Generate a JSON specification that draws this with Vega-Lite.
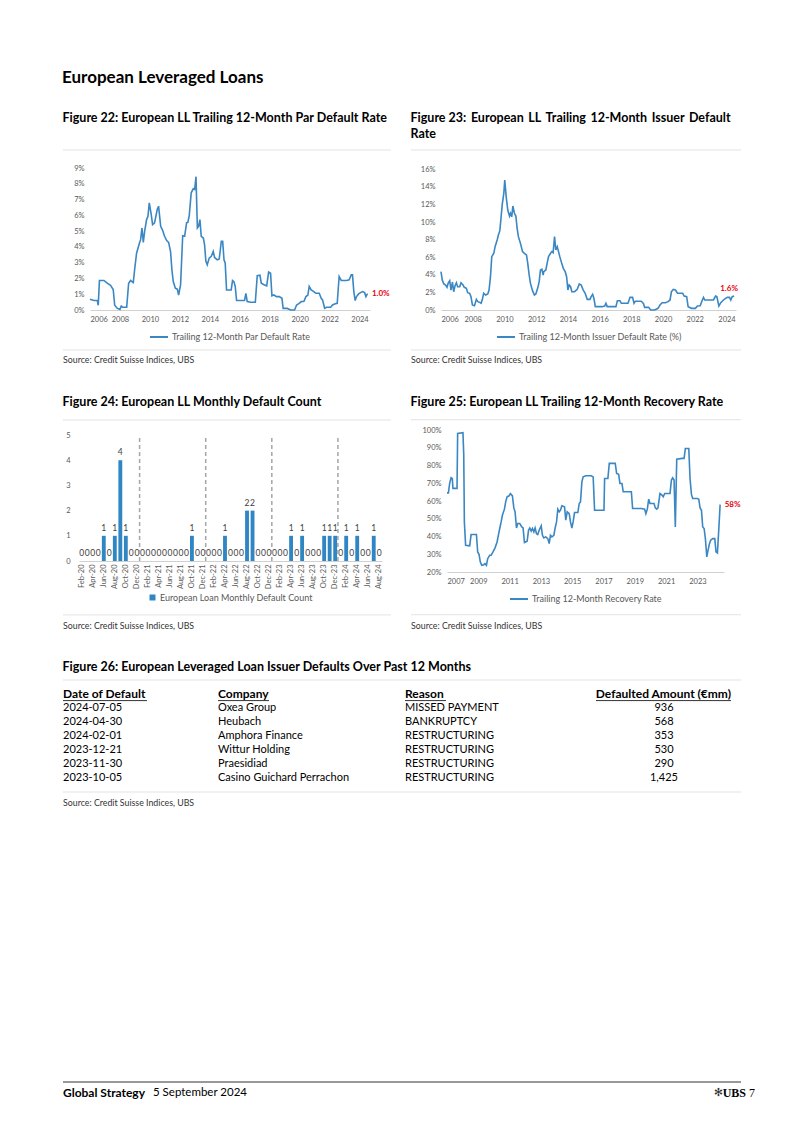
{
  "$schema": "https://vega.github.io/schema/vega-lite/v6.json",
  "background": "white",
  "padding": {"left": 43, "top": 68, "right": 0, "bottom": 0},
  "title": {"text": "European Leveraged Loans", "fontSize": 17, "fontWeight": "bold", "dx": 19, "offset": 25, "anchor": "start", "font": "Lato", "color": "#000000"},
  "spacing": 30,
  "resolve": {"scale": {"color": "independent"}, "legend": {"color": "independent"}},
  "vconcat": [
    {
      "spacing": 18,
      "resolve": {"scale": {"color": "independent"}, "legend": {"color": "independent"}},
      "hconcat": [
        {"width": 1, "height": 1, "data": {"values": []}, "mark": "rule", "encoding": {}},
        {
          "width": 280, "height": 142,
          "title": {"text": "Figure 22: European LL Trailing 12-Month Par Default Rate", "offset": 25},
          "layer": [
            {
              "data": {"values": [
                {"d":2006.0,"v":0.68},{"d":2006.27,"v":0.6},{"d":2006.49,"v":0.6},{"d":2006.55,"v":0.3},{"d":2006.63,"v":1.87},{"d":2006.93,"v":1.87},{"d":2007.15,"v":1.7},{"d":2007.37,"v":1.57},{"d":2007.55,"v":1.3},{"d":2007.65,"v":0.3},{"d":2007.83,"v":0.1},{"d":2008.0,"v":0.04},{"d":2008.09,"v":0.25},{"d":2008.2,"v":0.17},{"d":2008.45,"v":0.17},{"d":2008.58,"v":1.7},{"d":2008.71,"v":1.87},{"d":2008.89,"v":1.74},{"d":2008.98,"v":2.55},{"d":2009.11,"v":3.6},{"d":2009.29,"v":4.2},{"d":2009.38,"v":4.46},{"d":2009.47,"v":5.2},{"d":2009.56,"v":4.29},{"d":2009.65,"v":5.0},{"d":2009.78,"v":5.73},{"d":2009.87,"v":5.94},{"d":2009.96,"v":6.79},{"d":2010.09,"v":6.05},{"d":2010.18,"v":5.41},{"d":2010.31,"v":5.52},{"d":2010.49,"v":6.37},{"d":2010.58,"v":6.58},{"d":2010.72,"v":5.3},{"d":2010.85,"v":5.05},{"d":2010.98,"v":4.67},{"d":2011.12,"v":4.4},{"d":2011.25,"v":4.29},{"d":2011.38,"v":3.7},{"d":2011.47,"v":2.55},{"d":2011.56,"v":1.8},{"d":2011.7,"v":1.38},{"d":2011.83,"v":1.32},{"d":2011.92,"v":0.95},{"d":2012.05,"v":1.6},{"d":2012.19,"v":4.7},{"d":2012.32,"v":4.67},{"d":2012.45,"v":5.52},{"d":2012.54,"v":5.56},{"d":2012.63,"v":6.0},{"d":2012.76,"v":7.43},{"d":2012.9,"v":7.69},{"d":2012.99,"v":7.64},{"d":2013.08,"v":8.45},{"d":2013.17,"v":5.2},{"d":2013.25,"v":5.3},{"d":2013.34,"v":5.73},{"d":2013.43,"v":4.67},{"d":2013.57,"v":4.56},{"d":2013.65,"v":4.14},{"d":2013.74,"v":3.08},{"d":2013.83,"v":2.87},{"d":2013.96,"v":3.29},{"d":2014.1,"v":3.4},{"d":2014.23,"v":3.71},{"d":2014.32,"v":3.33},{"d":2014.5,"v":3.18},{"d":2014.63,"v":3.23},{"d":2014.77,"v":4.35},{"d":2014.86,"v":4.35},{"d":2014.95,"v":3.18},{"d":2015.03,"v":2.97},{"d":2015.12,"v":1.27},{"d":2015.3,"v":1.27},{"d":2015.43,"v":1.27},{"d":2015.52,"v":1.87},{"d":2015.61,"v":1.8},{"d":2015.7,"v":1.49},{"d":2015.79,"v":0.6},{"d":2016.06,"v":0.6},{"d":2016.32,"v":0.6},{"d":2016.41,"v":1.06},{"d":2016.5,"v":0.53},{"d":2016.73,"v":0.49},{"d":2017.04,"v":0.49},{"d":2017.17,"v":2.17},{"d":2017.35,"v":2.2},{"d":2017.44,"v":1.7},{"d":2017.62,"v":1.6},{"d":2017.8,"v":1.53},{"d":2017.93,"v":2.4},{"d":2018.06,"v":2.33},{"d":2018.15,"v":0.9},{"d":2018.28,"v":0.95},{"d":2018.46,"v":0.85},{"d":2018.64,"v":0.85},{"d":2018.82,"v":0.74},{"d":2018.9,"v":0.1},{"d":2019.17,"v":0.1},{"d":2019.4,"v":0.0},{"d":2019.66,"v":0.0},{"d":2019.8,"v":0.32},{"d":2019.97,"v":0.42},{"d":2020.11,"v":0.53},{"d":2020.29,"v":0.55},{"d":2020.42,"v":0.85},{"d":2020.55,"v":0.95},{"d":2020.64,"v":1.49},{"d":2020.77,"v":1.27},{"d":2020.95,"v":1.17},{"d":2021.08,"v":1.06},{"d":2021.31,"v":1.06},{"d":2021.44,"v":0.74},{"d":2021.53,"v":0.64},{"d":2021.67,"v":0.11},{"d":2021.8,"v":0.17},{"d":2022.07,"v":0.17},{"d":2022.2,"v":0.32},{"d":2022.33,"v":0.38},{"d":2022.51,"v":0.42},{"d":2022.64,"v":2.12},{"d":2022.78,"v":1.87},{"d":2022.96,"v":1.87},{"d":2023.13,"v":1.87},{"d":2023.31,"v":1.91},{"d":2023.45,"v":2.23},{"d":2023.53,"v":2.23},{"d":2023.62,"v":1.17},{"d":2023.71,"v":0.6},{"d":2023.8,"v":0.85},{"d":2023.94,"v":1.02},{"d":2024.07,"v":1.1},{"d":2024.2,"v":1.17},{"d":2024.34,"v":1.1},{"d":2024.43,"v":0.85},{"d":2024.51,"v":1.0},{"d":2024.56,"v":1.0}
              ]},
              "mark": {"type": "line", "strokeWidth": 1.6},
              "encoding": {
                "x": {"field": "d", "type": "quantitative", "scale": {"domain": [2006, 2024.7], "nice": false, "zero": false}, "axis": {"values": [2006,2008,2010,2012,2014,2016,2018,2020,2022,2024], "tickCount": 30, "format": "d", "labelPadding": 5, "labelOverlap": false, "title": null}},
                "y": {"field": "v", "type": "quantitative", "scale": {"domain": [0, 9], "nice": false}, "axis": {"values": [0,1,2,3,4,5,6,7,8,9], "tickCount": 30, "labelExpr": "datum.value + '%'", "minExtent": 27, "labelPadding": 6, "labelOverlap": false, "title": null}},
                "color": {"datum": "Trailing 12-Month Par Default Rate", "scale": {"range": ["#3a87c3"]}, "legend": {"symbolType": "stroke", "symbolSize": 324, "symbolStrokeWidth": 2, "offset": 4}}
              }
            },
            {
              "data": {"values": [{"d": 2024.56, "v": 1.0, "t": "1.0%"}]},
              "mark": {"type": "text", "align": "left", "baseline": "middle", "dx": 4, "color": "#e8000d", "fontWeight": "bold", "fontSize": 8},
              "encoding": {"x": {"field": "d", "type": "quantitative"}, "y": {"field": "v", "type": "quantitative"}, "text": {"field": "t"}}
            },
            {
              "data": {"values": [{}]},
              "mark": {"type": "rule", "color": "#e3e3e3", "strokeWidth": 1},
              "encoding": {"x": {"datum": 2004.197}, "x2": {"datum": 2026.103}, "y": {"datum": 10.14}}
            },
            {
              "data": {"values": [{}]},
              "mark": {"type": "rule", "color": "#e3e3e3", "strokeWidth": 1},
              "encoding": {"x": {"datum": 2004.197}, "x2": {"datum": 2026.103}, "y": {"datum": -2.535}}
            },
            {
              "data": {"values": [{"t": "Source: Credit Suisse Indices, UBS"}]},
              "mark": {"type": "text", "align": "left", "baseline": "middle", "fontSize": 8.8, "color": "#333333"},
              "encoding": {"x": {"datum": 2004.197}, "y": {"datum": -3.169}, "text": {"field": "t"}}
            }
          ]
        },
        {
          "width": 295, "height": 142,
          "title": {"text": ["Figure 23: \u2009European \u2009LL \u2009Trailing \u200912-Month \u2009Issuer \u2009Default", "Rate"], "offset": 9, "lineHeight": 16},
          "layer": [
            {
              "data": {"values": [
                {"d":2006.0,"v":4.36},{"d":2006.08,"v":3.4},{"d":2006.17,"v":3.0},{"d":2006.29,"v":2.84},{"d":2006.38,"v":2.58},{"d":2006.46,"v":3.1},{"d":2006.55,"v":3.34},{"d":2006.63,"v":2.27},{"d":2006.72,"v":3.18},{"d":2006.8,"v":2.08},{"d":2006.88,"v":2.73},{"d":2006.97,"v":3.1},{"d":2007.05,"v":2.65},{"d":2007.18,"v":2.65},{"d":2007.26,"v":3.1},{"d":2007.39,"v":2.84},{"d":2007.47,"v":2.58},{"d":2007.6,"v":2.46},{"d":2007.68,"v":1.97},{"d":2007.81,"v":1.9},{"d":2007.89,"v":1.52},{"d":2007.98,"v":0.57},{"d":2008.11,"v":0.49},{"d":2008.23,"v":1.21},{"d":2008.32,"v":0.95},{"d":2008.44,"v":0.87},{"d":2008.53,"v":0.76},{"d":2008.61,"v":1.21},{"d":2008.69,"v":1.9},{"d":2008.82,"v":1.7},{"d":2008.95,"v":1.82},{"d":2009.03,"v":2.27},{"d":2009.12,"v":3.79},{"d":2009.2,"v":6.07},{"d":2009.33,"v":6.45},{"d":2009.41,"v":7.2},{"d":2009.54,"v":7.96},{"d":2009.62,"v":8.53},{"d":2009.71,"v":9.02},{"d":2009.79,"v":10.6},{"d":2009.87,"v":12.13},{"d":2009.96,"v":13.27},{"d":2010.02,"v":14.79},{"d":2010.11,"v":12.9},{"d":2010.21,"v":11.37},{"d":2010.32,"v":10.69},{"d":2010.38,"v":11.0},{"d":2010.46,"v":10.6},{"d":2010.53,"v":11.83},{"d":2010.63,"v":11.0},{"d":2010.72,"v":10.69},{"d":2010.8,"v":9.29},{"d":2010.88,"v":8.34},{"d":2011.01,"v":7.58},{"d":2011.14,"v":6.64},{"d":2011.26,"v":6.45},{"d":2011.39,"v":6.26},{"d":2011.47,"v":5.31},{"d":2011.56,"v":3.98},{"d":2011.64,"v":3.03},{"d":2011.77,"v":2.2},{"d":2011.89,"v":1.71},{"d":2011.98,"v":1.82},{"d":2012.11,"v":2.58},{"d":2012.19,"v":3.22},{"d":2012.27,"v":4.55},{"d":2012.36,"v":4.63},{"d":2012.44,"v":3.98},{"d":2012.48,"v":4.36},{"d":2012.61,"v":4.55},{"d":2012.69,"v":5.31},{"d":2012.78,"v":6.07},{"d":2012.91,"v":6.45},{"d":2012.99,"v":6.64},{"d":2013.07,"v":6.52},{"d":2013.16,"v":8.34},{"d":2013.24,"v":6.82},{"d":2013.33,"v":7.2},{"d":2013.41,"v":6.64},{"d":2013.49,"v":6.07},{"d":2013.58,"v":5.5},{"d":2013.71,"v":4.74},{"d":2013.83,"v":4.36},{"d":2013.92,"v":3.79},{"d":2014.0,"v":2.27},{"d":2014.08,"v":2.84},{"d":2014.17,"v":2.65},{"d":2014.25,"v":2.08},{"d":2014.42,"v":2.08},{"d":2014.59,"v":2.35},{"d":2014.72,"v":2.96},{"d":2014.84,"v":2.84},{"d":2014.97,"v":2.27},{"d":2015.09,"v":1.9},{"d":2015.22,"v":1.21},{"d":2015.39,"v":1.21},{"d":2015.47,"v":1.52},{"d":2015.56,"v":1.78},{"d":2015.64,"v":1.33},{"d":2015.73,"v":0.38},{"d":2016.15,"v":0.38},{"d":2016.32,"v":0.45},{"d":2016.4,"v":0.76},{"d":2016.48,"v":0.38},{"d":2017.03,"v":0.38},{"d":2017.12,"v":1.06},{"d":2017.28,"v":1.06},{"d":2017.37,"v":0.76},{"d":2017.79,"v":0.76},{"d":2017.92,"v":1.44},{"d":2018.08,"v":1.44},{"d":2018.17,"v":0.76},{"d":2018.25,"v":0.99},{"d":2018.63,"v":0.99},{"d":2018.76,"v":0.76},{"d":2018.84,"v":0.3},{"d":2019.09,"v":0.3},{"d":2019.22,"v":0.0},{"d":2019.47,"v":0.0},{"d":2019.68,"v":0.19},{"d":2019.81,"v":0.57},{"d":2019.94,"v":0.83},{"d":2020.15,"v":0.83},{"d":2020.32,"v":0.95},{"d":2020.44,"v":1.14},{"d":2020.53,"v":2.08},{"d":2020.65,"v":2.35},{"d":2020.78,"v":2.27},{"d":2020.91,"v":1.9},{"d":2021.24,"v":1.9},{"d":2021.33,"v":1.59},{"d":2021.49,"v":1.52},{"d":2021.58,"v":0.38},{"d":2021.79,"v":0.19},{"d":2022.04,"v":0.19},{"d":2022.17,"v":0.45},{"d":2022.34,"v":0.49},{"d":2022.46,"v":1.06},{"d":2022.55,"v":1.44},{"d":2022.63,"v":1.14},{"d":2023.18,"v":1.14},{"d":2023.31,"v":1.59},{"d":2023.39,"v":1.52},{"d":2023.52,"v":0.45},{"d":2023.64,"v":0.83},{"d":2023.81,"v":1.14},{"d":2023.94,"v":1.33},{"d":2024.06,"v":1.44},{"d":2024.19,"v":1.44},{"d":2024.27,"v":1.14},{"d":2024.36,"v":1.52},{"d":2024.48,"v":1.6}
              ]},
              "mark": {"type": "line", "strokeWidth": 1.6},
              "encoding": {
                "x": {"field": "d", "type": "quantitative", "scale": {"domain": [2006, 2024.6], "nice": false, "zero": false}, "axis": {"values": [2006,2008,2010,2012,2014,2016,2018,2020,2022,2024], "tickCount": 30, "format": "d", "labelPadding": 5, "labelOverlap": false, "title": null}},
                "y": {"field": "v", "type": "quantitative", "scale": {"domain": [0, 16.15], "nice": false}, "axis": {"values": [0,2,4,6,8,10,12,14,16], "tickCount": 30, "labelExpr": "datum.value + '%'", "minExtent": 30, "labelPadding": 6, "labelOverlap": false, "title": null}},
                "color": {"datum": "Trailing 12-Month Issuer Default Rate (%)", "scale": {"range": ["#3a87c3"]}, "legend": {"symbolType": "stroke", "symbolSize": 324, "symbolStrokeWidth": 2, "offset": 4}}
              }
            },
            {
              "data": {"values": [{"d": 2024.48, "v": 1.6, "t": "1.6%"}]},
              "mark": {"type": "text", "align": "center", "baseline": "middle", "dx": -5, "dy": -7, "color": "#e8000d", "fontWeight": "bold", "fontSize": 8},
              "encoding": {"x": {"field": "d", "type": "quantitative"}, "y": {"field": "v", "type": "quantitative"}, "text": {"field": "t"}}
            },
            {
              "data": {"values": [{}]},
              "mark": {"type": "rule", "color": "#e3e3e3", "strokeWidth": 1},
              "encoding": {"x": {"datum": 2004.108}, "x2": {"datum": 2024.916}, "y": {"datum": 18.2}}
            },
            {
              "data": {"values": [{}]},
              "mark": {"type": "rule", "color": "#e3e3e3", "strokeWidth": 1},
              "encoding": {"x": {"datum": 2004.108}, "x2": {"datum": 2024.916}, "y": {"datum": -4.549}}
            },
            {
              "data": {"values": [{"t": "Source: Credit Suisse Indices, UBS"}]},
              "mark": {"type": "text", "align": "left", "baseline": "middle", "fontSize": 8.8, "color": "#333333"},
              "encoding": {"x": {"datum": 2004.108}, "y": {"datum": -5.686}, "text": {"field": "t"}}
            }
          ]
        }
      ]
    },
    {
      "spacing": 18,
      "resolve": {"scale": {"color": "independent"}, "legend": {"color": "independent"}},
      "hconcat": [
        {"width": 1, "height": 1, "data": {"values": []}, "mark": "rule", "encoding": {}},
        {
          "width": 303, "height": 131,
          "title": {"text": "Figure 24: European LL Monthly Default Count", "offset": 11},
          "layer": [
            {
              "data": {"values": [
                {"m":"Feb-20","n":0},{"m":"Mar-20","n":0},{"m":"Apr-20","n":0},{"m":"May-20","n":0},{"m":"Jun-20","n":1},{"m":"Jul-20","n":0},{"m":"Aug-20","n":1},{"m":"Sep-20","n":4},{"m":"Oct-20","n":1},{"m":"Nov-20","n":0},{"m":"Dec-20","n":0},
                {"m":"Jan-21","n":0},{"m":"Feb-21","n":0},{"m":"Mar-21","n":0},{"m":"Apr-21","n":0},{"m":"May-21","n":0},{"m":"Jun-21","n":0},{"m":"Jul-21","n":0},{"m":"Aug-21","n":0},{"m":"Sep-21","n":0},{"m":"Oct-21","n":1},{"m":"Nov-21","n":0},{"m":"Dec-21","n":0},
                {"m":"Jan-22","n":0},{"m":"Feb-22","n":0},{"m":"Mar-22","n":0},{"m":"Apr-22","n":1},{"m":"May-22","n":0},{"m":"Jun-22","n":0},{"m":"Jul-22","n":0},{"m":"Aug-22","n":2},{"m":"Sep-22","n":2},{"m":"Oct-22","n":0},{"m":"Nov-22","n":0},{"m":"Dec-22","n":0},
                {"m":"Jan-23","n":0},{"m":"Feb-23","n":0},{"m":"Mar-23","n":0},{"m":"Apr-23","n":1},{"m":"May-23","n":0},{"m":"Jun-23","n":1},{"m":"Jul-23","n":0},{"m":"Aug-23","n":0},{"m":"Sep-23","n":0},{"m":"Oct-23","n":1},{"m":"Nov-23","n":1},{"m":"Dec-23","n":1},
                {"m":"Jan-24","n":0},{"m":"Feb-24","n":1},{"m":"Mar-24","n":0},{"m":"Apr-24","n":1},{"m":"May-24","n":0},{"m":"Jun-24","n":0},{"m":"Jul-24","n":1},{"m":"Aug-24","n":0}
              ]},
              "encoding": {
                "x": {"field": "m", "type": "ordinal", "sort": null,
                  "scale": {"domain": ["Feb-20","Mar-20","Apr-20","May-20","Jun-20","Jul-20","Aug-20","Sep-20","Oct-20","Nov-20","Dec-20","Jan-21","Feb-21","Mar-21","Apr-21","May-21","Jun-21","Jul-21","Aug-21","Sep-21","Oct-21","Nov-21","Dec-21","Jan-22","Feb-22","Mar-22","Apr-22","May-22","Jun-22","Jul-22","Aug-22","Sep-22","Oct-22","Nov-22","Dec-22","Jan-23","Feb-23","Mar-23","Apr-23","May-23","Jun-23","Jul-23","Aug-23","Sep-23","Oct-23","Nov-23","Dec-23","Jan-24","Feb-24","Mar-24","Apr-24","May-24","Jun-24","Jul-24","Aug-24"], "paddingInner": 0.3, "paddingOuter": 0.15},
                  "axis": {"values": ["Feb-20","Apr-20","Jun-20","Aug-20","Oct-20","Dec-20","Feb-21","Apr-21","Jun-21","Aug-21","Oct-21","Dec-21","Feb-22","Apr-22","Jun-22","Aug-22","Oct-22","Dec-22","Feb-23","Apr-23","Jun-23","Aug-23","Oct-23","Dec-23","Feb-24","Apr-24","Jun-24","Aug-24"], "labelAngle": 270, "labelFontSize": 7.5, "labelPadding": 3, "labelOverlap": false, "title": null}}
              },
              "layer": [
                {
                  "mark": {"type": "bar", "color": "#2f86c3"},
                  "encoding": {
                    "y": {"field": "n", "type": "quantitative", "scale": {"domain": [0, 5.2], "nice": false}, "axis": {"values": [0,1,2,3,4,5], "tickCount": 30, "format": "d", "minExtent": 16, "labelPadding": 9, "labelOverlap": false, "title": null}},
                    "color": {"datum": "European Loan Monthly Default Count", "scale": {"range": ["#2f86c3"]}, "legend": {"symbolType": "square", "symbolSize": 36, "symbolStrokeWidth": 0, "offset": 4}}
                  }
                },
                {
                  "mark": {"type": "text", "baseline": "middle", "dy": -8, "fontSize": 8.5, "color": "#404040"},
                  "encoding": {"y": {"field": "n", "type": "quantitative"}, "text": {"field": "n", "type": "quantitative"}}
                },
                {
                  "data": {"values": [{"m": "Dec-20"}, {"m": "Dec-21"}, {"m": "Dec-22"}, {"m": "Dec-23"}]},
                  "mark": {"type": "rule", "color": "#a6a6a6", "strokeWidth": 1.5, "strokeDash": [4, 3]},
                  "encoding": {"x": {"field": "m", "type": "ordinal", "bandPosition": 1.214}, "y": {"datum": 0}, "y2": {"datum": 5}}
                }
              ]
            },
            {
              "data": {"values": [{"t": "Source: Credit Suisse Indices, UBS"}]},
              "encoding": {"x": {"datum": -0.0528, "type": "quantitative", "scale": {"domain": [0, 1]}, "axis": null}},
              "layer": [
                {"mark": {"type": "rule", "color": "#e3e3e3", "strokeWidth": 1}, "encoding": {"x2": {"datum": 1.0297}, "y": {"datum": 5.597}}},
                {"mark": {"type": "rule", "color": "#e3e3e3", "strokeWidth": 1}, "encoding": {"x2": {"datum": 1.0297}, "y": {"datum": -2.14}}},
                {"mark": {"type": "text", "align": "left", "baseline": "middle", "fontSize": 8.8, "color": "#333333"}, "encoding": {"y": {"datum": -2.58}, "text": {"field": "t"}}}
              ]
            }
          ],
          "resolve": {"scale": {"x": "independent"}, "axis": {"x": "independent"}}
        },
        {
          "width": 277, "height": 142,
          "title": {"text": "Figure 25: European LL Trailing 12-Month Recovery Rate", "offset": 11},
          "layer": [
            {
              "data": {"values": [
                {"d":2007.0,"v":64.6},{"d":2007.09,"v":64.6},{"d":2007.17,"v":69.9},{"d":2007.26,"v":73.1},{"d":2007.34,"v":72.7},{"d":2007.38,"v":67.1},{"d":2007.64,"v":67.1},{"d":2007.68,"v":98.1},{"d":2008.02,"v":98.5},{"d":2008.07,"v":85.9},{"d":2008.11,"v":48.2},{"d":2008.19,"v":35.1},{"d":2008.45,"v":34.7},{"d":2008.54,"v":41.1},{"d":2008.88,"v":41.1},{"d":2008.96,"v":31.3},{"d":2009.05,"v":29.8},{"d":2009.13,"v":25.6},{"d":2009.22,"v":23.8},{"d":2009.35,"v":24.1},{"d":2009.43,"v":24.7},{"d":2009.52,"v":23.8},{"d":2009.6,"v":27.5},{"d":2009.73,"v":29.4},{"d":2009.82,"v":29.4},{"d":2009.94,"v":31.3},{"d":2010.07,"v":33.6},{"d":2010.2,"v":36.9},{"d":2010.29,"v":41.1},{"d":2010.37,"v":44.5},{"d":2010.46,"v":48.2},{"d":2010.54,"v":52.0},{"d":2010.67,"v":55.4},{"d":2010.75,"v":59.5},{"d":2010.84,"v":62.4},{"d":2010.97,"v":62.9},{"d":2011.05,"v":64.2},{"d":2011.18,"v":62.9},{"d":2011.27,"v":56.1},{"d":2011.35,"v":53.9},{"d":2011.44,"v":44.8},{"d":2011.52,"v":47.3},{"d":2011.65,"v":47.3},{"d":2011.78,"v":45.4},{"d":2011.86,"v":44.8},{"d":2011.95,"v":36.6},{"d":2012.12,"v":37.3},{"d":2012.21,"v":43.5},{"d":2012.29,"v":44.8},{"d":2012.38,"v":43.0},{"d":2012.46,"v":44.5},{"d":2012.55,"v":42.6},{"d":2012.63,"v":44.8},{"d":2012.72,"v":41.6},{"d":2012.8,"v":41.1},{"d":2012.89,"v":43.5},{"d":2013.02,"v":46.0},{"d":2013.1,"v":40.7},{"d":2013.19,"v":39.2},{"d":2013.31,"v":39.8},{"d":2013.44,"v":38.8},{"d":2013.53,"v":36.0},{"d":2013.61,"v":40.7},{"d":2013.7,"v":39.8},{"d":2013.83,"v":40.7},{"d":2013.91,"v":44.8},{"d":2014.0,"v":48.2},{"d":2014.08,"v":55.4},{"d":2014.17,"v":53.9},{"d":2014.25,"v":54.8},{"d":2014.34,"v":57.3},{"d":2014.51,"v":56.7},{"d":2014.59,"v":49.2},{"d":2014.68,"v":53.9},{"d":2014.81,"v":52.9},{"d":2014.89,"v":48.2},{"d":2014.98,"v":44.8},{"d":2015.06,"v":48.2},{"d":2015.15,"v":53.5},{"d":2015.36,"v":53.5},{"d":2015.45,"v":58.6},{"d":2015.53,"v":59.5},{"d":2015.62,"v":70.8},{"d":2015.7,"v":73.6},{"d":2015.87,"v":74.2},{"d":2016.22,"v":74.2},{"d":2016.34,"v":73.6},{"d":2016.43,"v":54.8},{"d":2017.03,"v":54.8},{"d":2017.07,"v":72.7},{"d":2017.28,"v":72.7},{"d":2017.37,"v":81.2},{"d":2017.75,"v":81.2},{"d":2017.84,"v":75.5},{"d":2017.97,"v":75.0},{"d":2018.05,"v":69.9},{"d":2018.18,"v":69.9},{"d":2018.26,"v":65.2},{"d":2018.78,"v":65.2},{"d":2018.86,"v":55.8},{"d":2019.42,"v":55.8},{"d":2019.63,"v":55.4},{"d":2019.71,"v":52.9},{"d":2019.8,"v":55.4},{"d":2019.89,"v":61.0},{"d":2019.97,"v":58.6},{"d":2020.23,"v":58.6},{"d":2020.31,"v":56.1},{"d":2020.4,"v":55.4},{"d":2020.48,"v":56.1},{"d":2020.61,"v":64.2},{"d":2020.74,"v":63.3},{"d":2020.82,"v":62.4},{"d":2020.91,"v":64.2},{"d":2021.25,"v":64.2},{"d":2021.34,"v":71.8},{"d":2021.42,"v":73.1},{"d":2021.51,"v":71.8},{"d":2021.59,"v":45.4},{"d":2021.68,"v":83.6},{"d":2022.02,"v":84.0},{"d":2022.15,"v":84.0},{"d":2022.23,"v":89.6},{"d":2022.45,"v":89.6},{"d":2022.53,"v":72.7},{"d":2022.62,"v":63.7},{"d":2022.7,"v":61.4},{"d":2023.0,"v":61.4},{"d":2023.09,"v":61.0},{"d":2023.17,"v":56.1},{"d":2023.26,"v":54.8},{"d":2023.34,"v":45.4},{"d":2023.43,"v":44.5},{"d":2023.51,"v":38.8},{"d":2023.6,"v":28.5},{"d":2023.68,"v":32.2},{"d":2023.77,"v":36.0},{"d":2023.85,"v":37.9},{"d":2023.98,"v":38.8},{"d":2024.11,"v":38.8},{"d":2024.19,"v":31.3},{"d":2024.28,"v":30.7},{"d":2024.37,"v":44.5},{"d":2024.45,"v":57.6},{"d":2024.49,"v":57.6}
              ]},
              "mark": {"type": "line", "strokeWidth": 1.6},
              "encoding": {
                "x": {"field": "d", "type": "quantitative", "scale": {"domain": [2007, 2024.7], "nice": false, "zero": false}, "axis": {"values": [2007,2009,2011,2013,2015,2017,2019,2021,2023], "tickCount": 30, "format": "d", "labelPadding": 5, "labelOverlap": false, "title": null}},
                "y": {"field": "v", "type": "quantitative", "scale": {"domain": [20, 100], "nice": false, "zero": false}, "axis": {"values": [20,30,40,50,60,70,80,90,100], "tickCount": 30, "labelExpr": "datum.value + '%'", "minExtent": 36, "labelPadding": 6, "labelOverlap": false, "title": null}},
                "color": {"datum": "Trailing 12-Month Recovery Rate", "scale": {"range": ["#3a87c3"]}, "legend": {"symbolType": "stroke", "symbolSize": 324, "symbolStrokeWidth": 2, "offset": 4}}
              }
            },
            {
              "data": {"values": [{"d": 2024.49, "v": 57.6, "t": "58%"}]},
              "mark": {"type": "text", "align": "left", "baseline": "middle", "dx": 4, "color": "#e8000d", "fontWeight": "bold", "fontSize": 8},
              "encoding": {"x": {"field": "d", "type": "quantitative"}, "y": {"field": "v", "type": "quantitative"}, "text": {"field": "t"}}
            },
            {
              "data": {"values": [{}]},
              "mark": {"type": "rule", "color": "#e3e3e3", "strokeWidth": 1},
              "encoding": {"x": {"datum": 2004.7}, "x2": {"datum": 2025.786}, "y": {"datum": 105.8}}
            },
            {
              "data": {"values": [{}]},
              "mark": {"type": "rule", "color": "#e3e3e3", "strokeWidth": 1},
              "encoding": {"x": {"datum": 2004.7}, "x2": {"datum": 2025.786}, "y": {"datum": -4.07}}
            },
            {
              "data": {"values": [{"t": "Source: Credit Suisse Indices, UBS"}]},
              "mark": {"type": "text", "align": "left", "baseline": "middle", "fontSize": 8.8, "color": "#333333"},
              "encoding": {"x": {"datum": 2004.7}, "y": {"datum": -10.27}, "text": {"field": "t"}}
            }
          ]
        }
      ]
    },
    {
      "spacing": 18,
      "hconcat": [
        {"width": 1, "height": 1, "data": {"values": []}, "mark": "rule", "encoding": {}},
        {
          "width": 678, "height": 112,
          "title": {"text": "Figure 26: European Leveraged Loan Issuer Defaults Over Past 12 Months", "offset": 6},
          "data": {"values": [
            {"r": 1, "date": "2024-07-05", "company": "Oxea Group", "reason": "MISSED PAYMENT", "amount": 936},
            {"r": 2, "date": "2024-04-30", "company": "Heubach", "reason": "BANKRUPTCY", "amount": 568},
            {"r": 3, "date": "2024-02-01", "company": "Amphora Finance", "reason": "RESTRUCTURING", "amount": 353},
            {"r": 4, "date": "2023-12-21", "company": "Wittur Holding", "reason": "RESTRUCTURING", "amount": 530},
            {"r": 5, "date": "2023-11-30", "company": "Praesidiad", "reason": "RESTRUCTURING", "amount": 290},
            {"r": 6, "date": "2023-10-05", "company": "Casino Guichard Perrachon", "reason": "RESTRUCTURING", "amount": 1425}
          ]},
          "encoding": {
            "x": {"datum": 0, "type": "quantitative", "scale": {"domain": [0, 678]}, "axis": null}
          },
          "layer": [
            {"mark": {"type": "text", "align": "left", "baseline": "middle", "fontSize": 11, "color": "#000000"}, "encoding": {"y": {"field": "r", "type": "quantitative", "scale": {"domain": [-1, 7], "reverse": true, "nice": false, "zero": false}, "axis": null}, "text": {"field": "date"}}},
            {"mark": {"type": "text", "align": "left", "baseline": "middle", "fontSize": 11, "color": "#000000"}, "encoding": {"x": {"datum": 155}, "y": {"field": "r", "type": "quantitative"}, "text": {"field": "company"}}},
            {"mark": {"type": "text", "align": "left", "baseline": "middle", "fontSize": 11, "color": "#000000"}, "encoding": {"x": {"datum": 342}, "y": {"field": "r", "type": "quantitative"}, "text": {"field": "reason"}}},
            {"mark": {"type": "text", "align": "center", "baseline": "middle", "fontSize": 11, "color": "#000000"}, "encoding": {"x": {"datum": 601}, "y": {"field": "r", "type": "quantitative"}, "text": {"field": "amount", "type": "quantitative", "format": ","}}},
            {"data": {"values": [{"h": "Date of Default"}]}, "mark": {"type": "text", "align": "left", "baseline": "middle", "fontSize": 12, "fontWeight": "bold", "color": "#000000"}, "encoding": {"y": {"datum": 0}, "text": {"field": "h"}}},
            {"data": {"values": [{"h": "Company"}]}, "mark": {"type": "text", "align": "left", "baseline": "middle", "fontSize": 12, "fontWeight": "bold", "color": "#000000"}, "encoding": {"x": {"datum": 155}, "y": {"datum": 0}, "text": {"field": "h"}}},
            {"data": {"values": [{"h": "Reason"}]}, "mark": {"type": "text", "align": "left", "baseline": "middle", "fontSize": 12, "fontWeight": "bold", "color": "#000000"}, "encoding": {"x": {"datum": 342}, "y": {"datum": 0}, "text": {"field": "h"}}},
            {"data": {"values": [{"h": "Defaulted Amount (€mm)"}]}, "mark": {"type": "text", "align": "right", "baseline": "middle", "fontSize": 12, "fontWeight": "bold", "color": "#000000"}, "encoding": {"x": {"datum": 668}, "y": {"datum": 0}, "text": {"field": "h"}}},
            {"data": {"values": [{}]}, "mark": {"type": "rule", "color": "#000000", "strokeWidth": 0.8}, "encoding": {"x": {"datum": 0}, "x2": {"datum": 84}, "y": {"datum": 0.47}}},
            {"data": {"values": [{}]}, "mark": {"type": "rule", "color": "#000000", "strokeWidth": 0.8}, "encoding": {"x": {"datum": 155}, "x2": {"datum": 206}, "y": {"datum": 0.47}}},
            {"data": {"values": [{}]}, "mark": {"type": "rule", "color": "#000000", "strokeWidth": 0.8}, "encoding": {"x": {"datum": 342}, "x2": {"datum": 383}, "y": {"datum": 0.47}}},
            {"data": {"values": [{}]}, "mark": {"type": "rule", "color": "#000000", "strokeWidth": 0.8}, "encoding": {"x": {"datum": 533}, "x2": {"datum": 668}, "y": {"datum": 0.47}}},
            {"data": {"values": [{}]}, "mark": {"type": "rule", "color": "#e3e3e3", "strokeWidth": 1}, "encoding": {"x2": {"datum": 678}, "y": {"datum": -1}}},
            {"data": {"values": [{}]}, "mark": {"type": "rule", "color": "#e3e3e3", "strokeWidth": 1}, "encoding": {"x2": {"datum": 678}, "y": {"datum": 7}}},
            {"data": {"values": [{"t": "Source: Credit Suisse Indices, UBS"}]}, "mark": {"type": "text", "align": "left", "baseline": "middle", "fontSize": 8.8, "color": "#333333"}, "encoding": {"y": {"datum": 7.79}, "text": {"field": "t"}}}
          ]
        }
      ]
    },
    {"width": 1, "height": 213, "data": {"values": []}, "mark": "rule", "encoding": {}},
    {
      "spacing": 18,
      "hconcat": [
        {"width": 1, "height": 1, "data": {"values": []}, "mark": "rule", "encoding": {}},
        {
          "width": 678, "height": 18,
          "data": {"values": [{"a": "Global Strategy", "b": "5 September 2024", "c": "✻", "u": "UBS", "p": "7"}]},
          "encoding": {
            "x": {"datum": 0, "type": "quantitative", "scale": {"domain": [0, 678]}, "axis": null},
            "y": {"datum": 0.39, "type": "quantitative", "scale": {"domain": [0, 1]}, "axis": null}
          },
          "layer": [
            {"mark": {"type": "rule", "color": "#333333", "strokeWidth": 1}, "encoding": {"x2": {"datum": 678}, "y": {"datum": 1}}},
            {"mark": {"type": "text", "align": "left", "baseline": "middle", "fontSize": 12, "fontWeight": "bold", "color": "#000000"}, "encoding": {"text": {"field": "a"}}},
            {"mark": {"type": "text", "align": "left", "baseline": "middle", "fontSize": 11.5, "color": "#000000"}, "encoding": {"x": {"datum": 90}, "text": {"field": "b"}}},
            {"mark": {"type": "text", "align": "right", "baseline": "middle", "fontSize": 11, "color": "#333333", "font": "DejaVu Sans"}, "encoding": {"x": {"datum": 660}, "text": {"field": "c"}}},
            {"mark": {"type": "text", "align": "right", "baseline": "middle", "fontSize": 12, "fontWeight": "bold", "color": "#000000", "font": "Liberation Serif"}, "encoding": {"x": {"datum": 683}, "text": {"field": "u"}}},
            {"mark": {"type": "text", "align": "right", "baseline": "middle", "fontSize": 12, "color": "#000000", "font": "Liberation Serif"}, "encoding": {"x": {"datum": 692}, "text": {"field": "p"}}}
          ]
        }
      ]
    }
  ],
  "config": {
    "view": {"stroke": null},
    "font": "Lato",
    "axis": {"grid": false, "ticks": false, "labelOverlap": false, "labelFont": "Lato", "labelFontSize": 7.5, "labelColor": "#595959", "domainColor": "#d0d0d0"},
    "axisY": {"domain": false},
    "legend": {"orient": "bottom", "labelFont": "Lato", "labelFontSize": 9, "labelLimit": 400, "labelColor": "#595959", "title": null, "padding": 0, "labelOffset": 3, "layout": {"bottom": {"anchor": "middle"}}},
    "title": {"anchor": "start", "frame": "bounds", "font": "Lato", "fontWeight": "bold", "fontSize": 12.5, "color": "#000000"},
    "text": {"font": "Lato"}
  }
}
